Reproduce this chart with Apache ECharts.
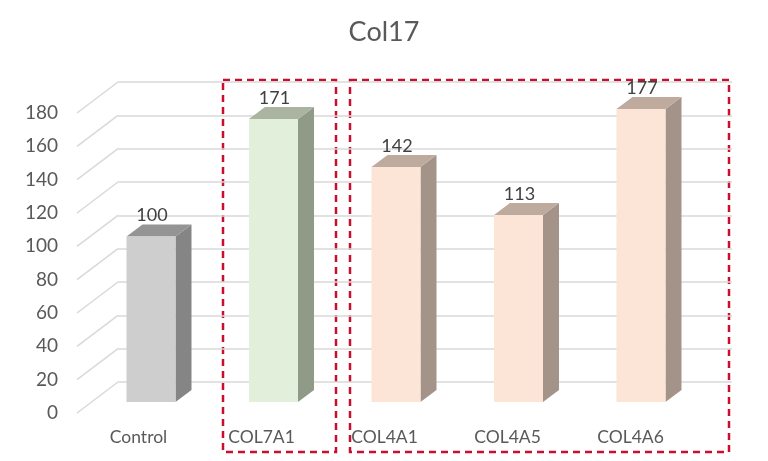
<!DOCTYPE html>
<html>
<head>
<meta charset="utf-8">
<title>Col17</title>
<script src="https://cdn.jsdelivr.net/npm/echarts@6/dist/echarts.min.js"></script>
<style>
  html, body { margin: 0; padding: 0; background: #fff; }
  #main { width: 768px; height: 461px; }
</style>
</head>
<body>
<div id="main"></div>
<script>
// data
const categories = ['Control', 'COL7A1', 'COL4A1', 'COL4A5', 'COL4A6'];
const values = [100, 171, 142, 113, 177];
const yTicks = [0, 20, 40, 60, 80, 100, 120, 140, 160, 180];

// face colours per bar: front / top / side
const frontColors = ['#cfcecf', '#e2efda', '#fce4d6', '#fce4d6', '#fce4d6'];
const topColors = ['#949494', '#aab4a0', '#bfaa9e', '#bfaa9e', '#bfaa9e'];
const sideColors = ['#858585', '#8f9a87', '#a39389', '#a39389', '#a39389'];

const chart = echarts.init(document.getElementById('main'));
const FONT = 'Lato';
const DX = 16, DY = 12; // bar depth
const HALF = 24.5;      // half width of front face

const option = {
  backgroundColor: '#fff',
  title: {
    text: 'Col17',
    left: 'center',
    top: 14,
    textStyle: { fontFamily: FONT, fontSize: 27, fontWeight: 'normal', color: '#595959' }
  },
  grid: [
    // front plane: axis labels
    { left: 77, right: 76, top: 113, bottom: 48 },
    // middle plane: bars
    { left: 89.75, right: 65.75, top: 104, bottom: 59 },
    // back wall: gridlines
    { left: 118, right: 36, top: 82, bottom: 79 }
  ],
  xAxis: [
    {
      gridIndex: 0, type: 'category', data: categories,
      axisLine: { show: false }, axisTick: { show: false },
      axisLabel: { margin: 15, fontFamily: FONT, fontSize: 17.5, color: '#595959' }
    },
    { gridIndex: 1, type: 'category', data: categories, show: false },
    { gridIndex: 2, type: 'category', data: categories, show: false }
  ],
  yAxis: [
    {
      gridIndex: 0, type: 'value', min: 0, max: 180, interval: 20,
      axisLine: { show: false }, axisTick: { show: false }, splitLine: { show: false },
      axisLabel: { margin: 19, fontFamily: FONT, fontSize: 19, color: '#595959' }
    },
    { gridIndex: 1, type: 'value', min: 0, max: 180, interval: 20, show: false, splitLine: { show: false } },
    {
      gridIndex: 2, type: 'value', min: 0, max: 180, interval: 20,
      axisLine: { show: false }, axisTick: { show: false }, axisLabel: { show: false },
      splitLine: { show: true, lineStyle: { color: '#d9d9d9', width: 1.5 } }
    }
  ],
  series: [
    {
      // diagonal side-wall lines from the front axis to the back wall
      type: 'custom',
      xAxisIndex: 0, yAxisIndex: 0,
      data: yTicks.map(v => [0, v]),
      silent: true,
      renderItem: function (params, api) {
        const y = api.coord([0, api.value(1)])[1];
        const x = params.coordSys.x;
        return {
          type: 'line',
          shape: { x1: x, y1: y, x2: x + 41, y2: y - 31 },
          style: { stroke: '#d9d9d9', lineWidth: 1.5 }
        };
      }
    },
    {
      type: 'custom',
      xAxisIndex: 1, yAxisIndex: 1,
      data: values.map((v, i) => [i, v]),
      renderItem: function (params, api) {
        const i = api.value(0);
        const top = api.coord([i, api.value(1)]);
        const base = api.coord([i, 0]);
        const x0 = top[0] - HALF, x1 = top[0] + HALF;
        const yt = top[1], yb = base[1];
        return {
          type: 'group',
          children: [
            {
              type: 'polygon',
              shape: { points: [[x1, yt], [x1 + DX, yt - DY], [x1 + DX, yb - DY], [x1, yb]] },
              style: { fill: sideColors[i] }
            },
            {
              type: 'polygon',
              shape: { points: [[x0, yt], [x1, yt], [x1 + DX, yt - DY], [x0 + DX, yt - DY]] },
              style: { fill: topColors[i] }
            },
            {
              type: 'rect',
              shape: { x: x0, y: yt, width: x1 - x0, height: yb - yt },
              style: { fill: frontColors[i] }
            },
            {
              type: 'text',
              x: top[0] + 1, y: yt - DY - 9,
              style: {
                text: String(api.value(1)),
                fontFamily: FONT, fontSize: 18, fill: '#404040',
                align: 'center', verticalAlign: 'middle'
              }
            }
          ]
        };
      }
    }
  ],
  graphic: [
    {
      type: 'rect', shape: { x: 223, y: 80, width: 113, height: 372 },
      style: { fill: 'none', stroke: '#c8102e', lineWidth: 2.5, lineDash: [7, 5] }
    },
    {
      type: 'rect', shape: { x: 350, y: 80, width: 379, height: 372 },
      style: { fill: 'none', stroke: '#c8102e', lineWidth: 2.5, lineDash: [7, 5] }
    }
  ]
};

chart.setOption(option);
</script>
</body>
</html>
